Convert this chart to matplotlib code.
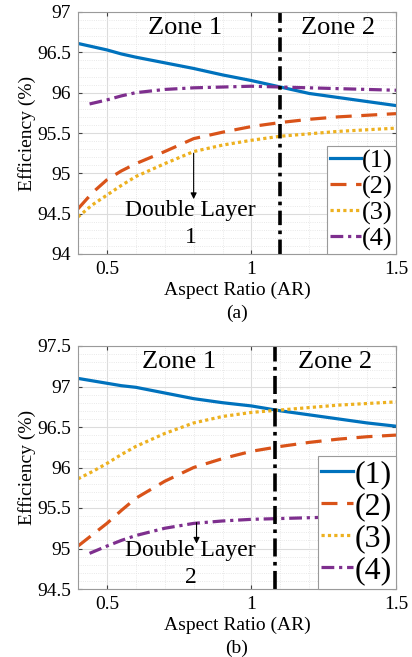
import numpy as np
import matplotlib
matplotlib.use('Agg')
from matplotlib import pyplot as plt
from matplotlib.ticker import MultipleLocator

plt.rcParams['font.family'] = ['Liberation Serif', 'DejaVu Serif']

# Aspect ratio samples (curve 4 starts a bit later)
ar = [0.4, 0.45, 0.5, 0.55, 0.6, 0.7, 0.8, 0.9, 1.0, 1.1, 1.2, 1.3, 1.4, 1.5]
ar4 = [0.44, 0.5, 0.55, 0.6, 0.7, 0.8, 0.9, 1.0, 1.1, 1.2, 1.3, 1.4, 1.5]

# Double layer 1
eff_a1 = [96.61, 96.57, 96.53, 96.48, 96.44, 96.37, 96.30, 96.22, 96.15, 96.07, 95.99, 95.94, 95.89, 95.84]
eff_a2 = [94.56, 94.76, 94.92, 95.03, 95.12, 95.27, 95.43, 95.51, 95.58, 95.63, 95.67, 95.70, 95.72, 95.74]
eff_a3 = [94.46, 94.61, 94.73, 94.85, 94.96, 95.12, 95.27, 95.35, 95.41, 95.46, 95.49, 95.52, 95.54, 95.56]
eff_a4 = [95.86, 95.91, 95.96, 96.00, 96.04, 96.06, 96.07, 96.08, 96.07, 96.06, 96.05, 96.04, 96.03]

# Double layer 2
eff_b1 = [97.10, 97.07, 97.04, 97.01, 96.99, 96.92, 96.85, 96.80, 96.76, 96.70, 96.65, 96.60, 96.55, 96.51]
eff_b2 = [95.03, 95.17, 95.31, 95.47, 95.62, 95.83, 96.00, 96.11, 96.20, 96.26, 96.31, 96.35, 96.38, 96.40]
eff_b3 = [95.86, 95.95, 96.05, 96.16, 96.26, 96.42, 96.55, 96.63, 96.68, 96.71, 96.74, 96.77, 96.79, 96.81]
eff_b4 = [94.94, 95.03, 95.10, 95.16, 95.25, 95.31, 95.34, 95.36, 95.37, 95.38, 95.39, 95.41, 95.43]

labels = ['(1)', '(2)', '(3)', '(4)']
colors = ['#0072BD', '#D95319', '#EDB120', '#7E2F8E']

W, H = 412, 657
fig = plt.figure(figsize=(W / 100, H / 100), dpi=100)


def px_axes(left, top, right, bottom):
    return fig.add_axes([left / W, 1 - bottom / H, (right - left) / W, (bottom - top) / H])


def draw_panel(ax, curves, ylim, yticks, vline, vstyle, arrow, txt_y, layer, caption,
               leg_fs, leg_hl, zone_x):
    styles = [dict(ls='-'), dict(ls=(0, (5, 3))), dict(ls=(0, (1, 1))), dict(ls=(0, (4, 1.5, 1, 1.5)))]
    for i, (xs, ys) in enumerate(curves):
        ax.plot(xs, ys, color=colors[i], lw=2.3, label=labels[i], **styles[i])
    ax.axvline(vline, color='black', lw=2.6, **vstyle)

    ax.set_xlim(0.4, 1.5)
    ax.set_ylim(*ylim)
    ax.set_xticks([0.5, 1, 1.5])
    ax.set_xticklabels(['0.5', '1', '1.5'])
    ax.set_yticks(yticks)
    ax.set_yticklabels(['%g' % t for t in yticks])
    ax.xaxis.set_minor_locator(MultipleLocator(0.1))
    ax.yaxis.set_minor_locator(MultipleLocator(0.1))
    ax.grid(which='major', color='#dcdcdc', lw=0.8)
    ax.grid(which='minor', color='#e2e2e2', lw=0.6, ls=':')
    ax.set_axisbelow(True)
    ax.tick_params(which='both', direction='in', top=True, right=True, labelsize=14,
                   colors='#404040', length=3, pad=5)
    ax.tick_params(which='minor', length=0)
    for t in ax.get_xticklabels() + ax.get_yticklabels():
        t.set_color('black')
    for s in ax.spines.values():
        s.set_color('#9a9a9a')
        s.set_linewidth(0.8)

    ax.set_xlabel('Aspect Ratio (AR)', fontsize=14, labelpad=3)
    ax.set_ylabel('Efficiency (%)', fontsize=14, labelpad=1)

    ytop = ylim[1] - 0.2
    ax.text(zone_x[0], ytop, 'Zone 1', fontsize=19, ha='center', va='center')
    ax.text(zone_x[1], ytop, 'Zone 2', fontsize=19, ha='center', va='center')

    ax.annotate('', xy=(arrow[0], arrow[2]), xytext=(arrow[0], arrow[1]),
                arrowprops=dict(arrowstyle='-|>', color='black', lw=0.8,
                                mutation_scale=9, shrinkA=0, shrinkB=0))
    ax.text(0.79, txt_y[0], 'Double Layer', fontsize=17, ha='center', va='center')
    ax.text(0.79, txt_y[1], layer, fontsize=17, ha='center', va='center')

    leg = ax.legend(loc='lower right', fontsize=leg_fs, handlelength=leg_hl, handletextpad=0.05,
                    borderpad=0.12, labelspacing=0.08, borderaxespad=0,
                    fancybox=False, framealpha=1, edgecolor='#9a9a9a')
    leg.get_frame().set_linewidth(0.8)
    ax.text(0.5, -0.245, caption, transform=ax.transAxes, fontsize=14,
            ha='center', va='center')


ax_a = px_axes(78, 12, 396, 254)
draw_panel(ax_a,
           [(ar, eff_a1), (ar, eff_a2), (ar, eff_a3), (ar4, eff_a4)],
           (94, 97), [94, 94.5, 95, 95.5, 96, 96.5, 97],
           1.1, dict(ls=(0, (4, 1.5, 1, 1.5))),
           (0.8, 95.25, 94.68), (94.54, 94.21), '1', '(a)', 19, 1.15, (0.77, 1.30))

ax_b = px_axes(78, 346, 396, 589)
draw_panel(ax_b,
           [(ar, eff_b1), (ar, eff_b2), (ar, eff_b3), (ar4, eff_b4)],
           (94.5, 97.5), [94.5, 95, 95.5, 96, 96.5, 97, 97.5],
           1.08, dict(ls=(0, (5, 1.5, 1, 1.5))),
           (0.81, 95.32, 95.06), (94.98, 94.64), '2', '(b)', 23, 1.0, (0.75, 1.29))

fig.savefig('out.png', dpi=100)
